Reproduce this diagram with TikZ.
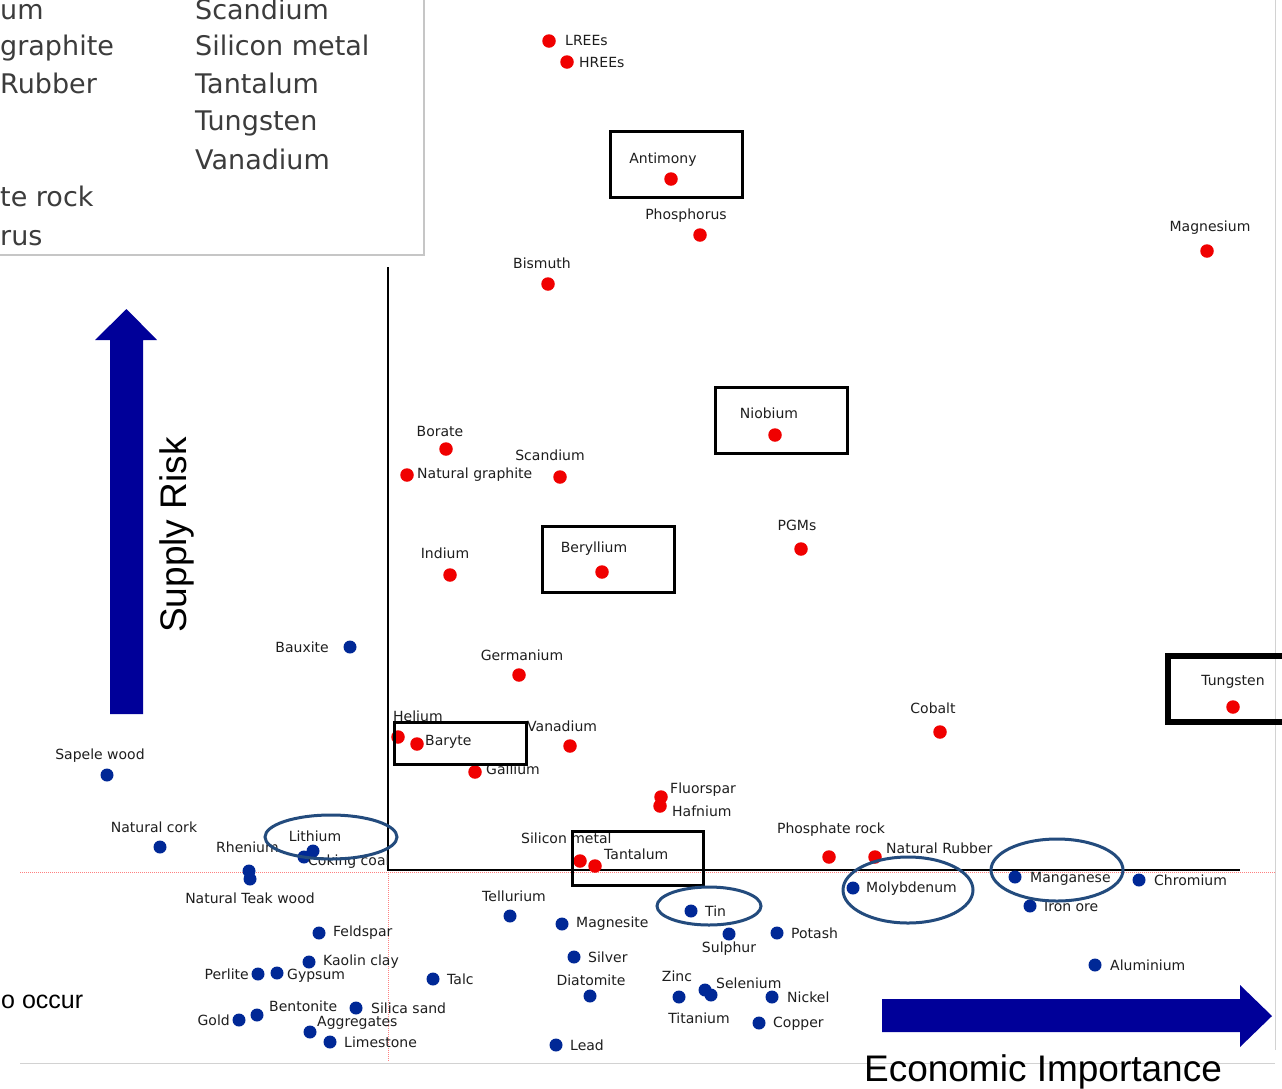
\documentclass[tikz,border=0pt]{standalone}
\usepackage{fontspec}
\setmainfont{DejaVu Sans}
\newfontfamily\arialf{Liberation Sans}
\definecolor{rdc}{RGB}{240,0,0}
\definecolor{bdc}{RGB}{0,40,150}
\definecolor{elc}{RGB}{35,75,125}
\definecolor{navyc}{RGB}{0,0,153}
\definecolor{txc}{RGB}{30,30,30}
\definecolor{lgc}{RGB}{60,60,60}
\tikzset{
  rdot/.style={circle,fill=rdc,inner sep=0,minimum size=13.5pt},
  bdot/.style={circle,fill=bdc,inner sep=0,minimum size=13pt},
  lbl/.style={inner sep=0,text=txc,font=\fontsize{14}{16}\selectfont},
  lgd/.style={inner sep=0,text=lgc,anchor=base west,font=\fontsize{27}{30}\selectfont},
  box/.style={draw=black,line width=3pt,inner sep=0},
  ell/.style={draw=elc,line width=3pt},
  axisl/.style={draw=black,line width=2pt},
  refl/.style={draw=red!50,densely dotted,line width=1pt},
  grayl/.style={draw=gray!35,line width=1pt}
}
\begin{document}
\begin{tikzpicture}[x=1pt,y=-1pt]
\useasboundingbox (0,0) rectangle (1282,1088);
\fill[white] (0,0) rectangle (1282,1088);
% frame lines
\draw[grayl] (20,1063) -- (1275,1063);
\draw[grayl] (1275,0) -- (1275,1050);
% legend box
\draw[draw=gray!45,line width=1.5pt,fill=white] (-5,-5) rectangle (424,255);
\node[lgd] (lg1) at (0,19) {um};
\node[lgd] (lg2) at (0,55) {graphite};
\node[lgd] (lg3) at (0,93) {Rubber};
\node[lgd] (lg4) at (0,206) {te rock};
\node[lgd] (lg5) at (0,245) {rus};
\node[lgd] (lg6) at (195,19) {Scandium};
\node[lgd] (lg7) at (195,55) {Silicon metal};
\node[lgd] (lg8) at (195,93) {Tantalum};
\node[lgd] (lg9) at (195,130) {Tungsten};
\node[lgd] (lg10) at (195,169) {Vanadium};
% reference lines
\draw[refl] (20,872) -- (1275,872);
\draw[refl] (388,872) -- (388,1062);
% axes
\coordinate (ax0) at (388,267);
\coordinate (ax1) at (388,870);
\coordinate (ax2) at (1240,870);
\draw[axisl] (ax0) -- (ax1) -- (ax2);
% big arrows
\fill[navyc] (110,714) -- (110,340) -- (95,340) -- (126.5,309) -- (157,340) -- (143,340) -- (143,714) -- cycle;
\fill[navyc] (882,999) -- (1240,999) -- (1240,985) -- (1272,1016) -- (1240,1047) -- (1240,1032) -- (882,1032) -- cycle;
\node[rotate=90,anchor=base,inner sep=0,font=\arialf\fontsize{37}{40}\selectfont] (sr) at (186,535) {Supply Risk};
\node[anchor=base,inner sep=0,font=\arialf\fontsize{37}{40}\selectfont] (ei) at (1043,1081) {Economic Importance};
\node[anchor=base west,inner sep=0,font=\arialf\fontsize{25}{28}\selectfont] (oc) at (1,1008) {o occur};
% ---- red points ----
\node[rdot] (lree) at (549,41) {};   \node[lbl,anchor=west] (lreeL) at (565,40) {LREEs};
\node[rdot] (hree) at (567,62) {};   \node[lbl,anchor=west] (hreeL) at (579,62) {HREEs};
\node[rdot] (antim) at (671,179) {}; \node[lbl] (antimL) at (663,160) {Antimony};
\node[rdot] (phos) at (700,235) {};  \node[lbl] (phosL) at (686,216) {Phosphorus};
\node[rdot] (magn) at (1207,251) {}; \node[lbl] (magnL) at (1210,228) {Magnesium};
\node[rdot] (bism) at (548,284) {};  \node[lbl] (bismL) at (542,263) {Bismuth};
\node[rdot] (niob) at (775,435) {};  \node[lbl] (niobL) at (769,413) {Niobium};
\node[rdot] (bora) at (446,449) {};  \node[lbl] (boraL) at (440,431) {Borate};
\node[rdot] (scan) at (560,477) {};  \node[lbl] (scanL) at (550,455) {Scandium};
\node[rdot] (ngra) at (407,475) {};  \node[lbl,anchor=west] (ngraL) at (417,475) {Natural graphite};
\node[rdot] (bery) at (602,572) {};  \node[lbl] (beryL) at (594,549) {Beryllium};
\node[rdot] (pgms) at (801,549) {};  \node[lbl] (pgmsL) at (797,525) {PGMs};
\node[rdot] (indi) at (450,575) {};  \node[lbl] (indiL) at (445,553) {Indium};
\node[rdot] (germ) at (519,675) {};  \node[lbl] (germL) at (522,655) {Germanium};
\node[rdot] (tung) at (1233,707) {}; \node[lbl] (tungL) at (1233,682) {Tungsten};
\node[rdot] (coba) at (940,732) {};  \node[lbl] (cobaL) at (933,708) {Cobalt};
\node[rdot] (heli) at (398,737) {};  \node[lbl,anchor=west] (heliL) at (393,716) {Helium};
\node[rdot] (bary) at (417,744) {};  \node[lbl,anchor=west] (baryL) at (425,742) {Baryte};
\node[rdot] (vana) at (570,746) {};  \node[lbl,anchor=west] (vanaL) at (527,726) {Vanadium};
\node[rdot] (gall) at (475,772) {};  \node[lbl,anchor=west] (gallL) at (486,769) {Gallium};
\node[rdot] (fluo) at (661,797) {};  \node[lbl,anchor=west] (fluoL) at (670,790) {Fluorspar};
\node[rdot] (hafn) at (660,806) {};  \node[lbl,anchor=west] (hafnL) at (672,811) {Hafnium};
\node[rdot] (phro) at (829,857) {};  \node[lbl] (phroL) at (831,830) {Phosphate rock};
\node[rdot] (nrub) at (875,857) {};  \node[lbl,anchor=west] (nrubL) at (886,848) {Natural Rubber};
\node[rdot] (sime) at (580,861) {};  \node[lbl,anchor=west] (simeL) at (521,838) {Silicon metal};
\node[rdot] (tant) at (595,866) {};  \node[lbl,anchor=west] (tantL) at (604,854) {Tantalum};
% ---- blue points ----
\node[bdot] (baux) at (350,647) {};  \node[lbl,anchor=east] (bauxL) at (329,647) {Bauxite};
\node[bdot] (sape) at (107,775) {};  \node[lbl] (sapeL) at (100,756) {Sapele wood};
\node[bdot] (ncor) at (160,847) {};  \node[lbl] (ncorL) at (154,827) {Natural cork};
\node[bdot] (rhen) at (249,871) {};  \node[lbl,anchor=west] (rhenL) at (216,847) {Rhenium};
\node[bdot] (teak) at (250,879) {};  \node[lbl] (teakL) at (250,898) {Natural Teak wood};
\node[bdot] (coki) at (304,857) {};  \node[lbl,anchor=west] (cokiL) at (308,862) {Coking coal};
\node[bdot] (lith) at (313,851) {};  \node[lbl] (lithL) at (315,836) {Lithium};
\node[bdot] (tell) at (510,916) {};  \node[lbl] (tellL) at (514,896) {Tellurium};
\node[bdot] (magt) at (562,924) {};  \node[lbl,anchor=west] (magtL) at (576,924) {Magnesite};
\node[bdot] (tin) at (691,911) {};   \node[lbl,anchor=west] (tinL) at (705,911) {Tin};
\node[bdot] (sulp) at (729,934) {};  \node[lbl] (sulpL) at (729,949) {Sulphur};
\node[bdot] (pota) at (777,933) {};  \node[lbl,anchor=west] (potaL) at (791,933) {Potash};
\node[bdot] (moly) at (853,888) {};  \node[lbl,anchor=west] (molyL) at (866,889) {Molybdenum};
\node[bdot] (mang) at (1015,877) {}; \node[lbl,anchor=west] (mangL) at (1030,879) {Manganese};
\node[bdot] (iron) at (1030,906) {}; \node[lbl,anchor=west] (ironL) at (1044,906) {Iron ore};
\node[bdot] (chro) at (1139,880) {}; \node[lbl,anchor=west] (chroL) at (1154,880) {Chromium};
\node[bdot] (alum) at (1095,965) {}; \node[lbl,anchor=west] (alumL) at (1110,965) {Aluminium};
\node[bdot] (feld) at (319,933) {};  \node[lbl,anchor=west] (feldL) at (333,933) {Feldspar};
\node[bdot] (kaol) at (309,962) {};  \node[lbl,anchor=west] (kaolL) at (323,962) {Kaolin clay};
\node[bdot] (perl) at (258,974) {};  \node[lbl,anchor=east] (perlL) at (249,974) {Perlite};
\node[bdot] (gyps) at (277,973) {};  \node[lbl,anchor=west] (gypsL) at (287,976) {Gypsum};
\node[bdot] (talc) at (433,979) {};  \node[lbl,anchor=west] (talcL) at (447,979) {Talc};
\node[bdot] (silv) at (574,957) {};  \node[lbl,anchor=west] (silvL) at (588,957) {Silver};
\node[bdot] (diat) at (590,996) {};  \node[lbl] (diatL) at (591,980) {Diatomite};
\node[bdot] (zinc) at (679,997) {};  \node[lbl] (zincL) at (677,976) {Zinc};
\node[lbl] (titaL) at (699,1018) {Titanium};
\node[bdot] (sel1) at (705,990) {};
\node[bdot] (sel2) at (711,995) {};  \node[lbl,anchor=west] (selL) at (716,983) {Selenium};
\node[bdot] (nick) at (772,997) {};  \node[lbl,anchor=west] (nickL) at (787,997) {Nickel};
\node[bdot] (copp) at (759,1023) {}; \node[lbl,anchor=west] (coppL) at (773,1024) {Copper};
\node[bdot] (lead) at (556,1045) {}; \node[lbl,anchor=west] (leadL) at (570,1045) {Lead};
\node[bdot] (bent) at (257,1015) {}; \node[lbl,anchor=west] (bentL) at (269,1006) {Bentonite};
\node[bdot] (gold) at (239,1020) {}; \node[lbl,anchor=east] (goldL) at (230,1020) {Gold};
\node[bdot] (sisa) at (356,1008) {}; \node[lbl,anchor=west] (sisaL) at (371,1008) {Silica sand};
\node[bdot] (aggr) at (310,1032) {}; \node[lbl,anchor=west] (aggrL) at (317,1023) {Aggregates};
\node[bdot] (lime) at (330,1042) {}; \node[lbl,anchor=west] (limeL) at (344,1042) {Limestone};
% ---- boxes ----
\node[box,minimum width=132pt,minimum height=66pt] (antBox) at (676,164) {};
\node[box,minimum width=132pt,minimum height=66pt] (niobBox) at (781,420) {};
\node[box,minimum width=132pt,minimum height=66pt] (berBox) at (608,559) {};
\node[box,minimum width=132pt,minimum height=42pt] (barBox) at (460,743) {};
\node[box,minimum width=131pt,minimum height=54pt] (tanBox) at (637.5,858) {};
\node[box,line width=6pt,minimum width=126pt,minimum height=66pt] (tungBox) at (1231,689) {};
% ---- ellipses ----
\draw[ell] (331,837) ellipse [x radius=66pt, y radius=22pt];
\draw[ell] (709,906) ellipse [x radius=52pt, y radius=19pt];
\draw[ell] (908,890) ellipse [x radius=65pt, y radius=33pt];
\draw[ell] (1057,870) ellipse [x radius=66pt, y radius=31pt];
\end{tikzpicture}
\end{document}
